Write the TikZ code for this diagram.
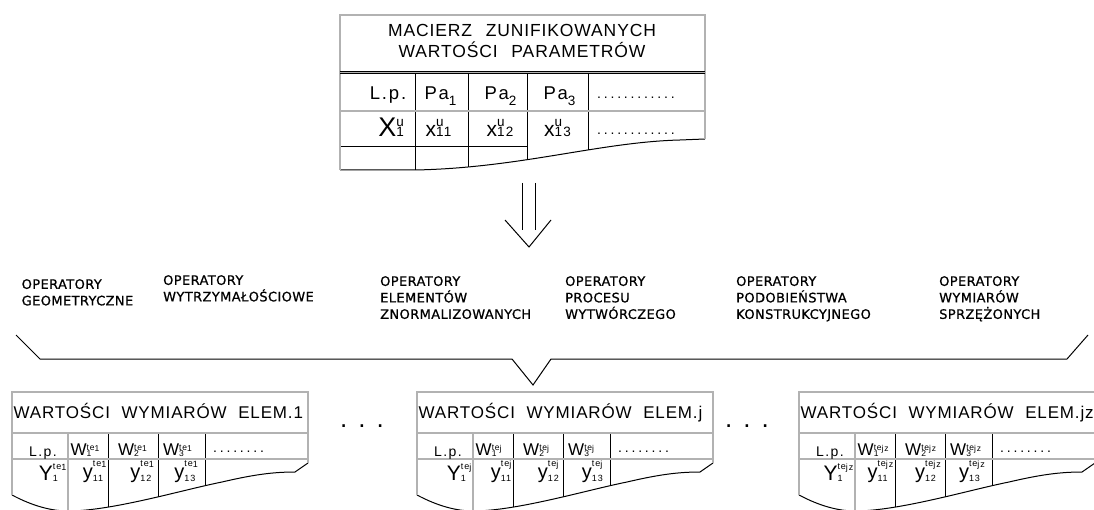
\documentclass[tikz,border=0pt]{standalone}
\usepackage{fontspec}
\setmainfont{Liberation Sans}
\newfontfamily\cadfont[LetterSpace=5]{Liberation Sans}
\newfontfamily\cadwide[LetterSpace=10]{Liberation Sans}
\newfontfamily\dotfont[LetterSpace=20]{Liberation Sans}
\newfontfamily\opfont[LetterSpace=3, FakeBold=0.8]{DejaVu Sans}
\newcommand{\fs}[1]{\fontsize{#1}{#1}\selectfont}
% base, sup, sub, base size, script size, sup raise, sub raise
\newcommand{\sx}[7]{{\fs{#4}#1}{\fs{#5}\setbox0=\hbox{#2}\setbox2=\hbox{#3}\raisebox{#6}{\copy0}\kern-\wd0\raisebox{#7}{\copy2}\ifdim\wd0>\wd2\kern\dimexpr\wd0-\wd2\relax\fi}}
\newcommand{\tej}[1]{te\raisebox{-1pt}{#1}}
\tikzset{
  thinln/.style={line width=1pt},
  dbl/.style={draw=black, line width=0.6pt, double=gray!60, double distance=1.3pt},
  op/.style={font=\opfont\fontsize{13}{16.5}\selectfont, align=left, inner sep=0pt, anchor=north west},
  ttl/.style={font=\cadfont\fs{17}, inner sep=0pt},
  lbl/.style={font=\cadwide\fs{14}, inner sep=0pt},
  tlbl/.style={font=\cadwide\fs{18.5}, inner sep=0pt},
  dots/.style={font=\dotfont\fs{14}, inner sep=0pt, anchor=base west},
  bigdots/.style={font=\fs{26}, inner sep=0pt, anchor=base}
}
\newcommand{\elemtable}[3]{%
\begin{scope}[shift={(#1,0)}, name prefix=#2-]
  \begin{scope}
    \clip (0,392) -- (296,392) -- (296,463) -- (283,472) .. controls (260,472) and (240,475) .. (210,482) .. controls (170,490) and (100,511) .. (56,511) .. controls (35,511) and (15,503) .. (0,495) -- cycle;
    \draw[thinln] (96,433) -- (96,515) (146,433) -- (146,515) (193,433) -- (193,515);
  \end{scope}
  \draw[thinln] (0,495) .. controls (15,503) and (35,511) .. (56,511) .. controls (100,511) and (170,490) .. (210,482) .. controls (240,475) and (260,472) .. (283,472) -- (296,463);
  \draw[dbl] (0,495) -- (0,392) -- (296,392) -- (296,463);
  \draw[dbl] (0,433) -- (296,433) (0,459) -- (296,459) (56,433) -- (56,515);
  \node[ttl, anchor=base west] (title) at (1.5,418.5) {WARTOŚCI\hspace{6pt} WYMIARÓW\hspace{6pt} ELEM.#3};
  \node[lbl, anchor=base] (lp) at (31,456) {L.p.};
  \node[lbl, anchor=base west] (w1) at (58.5,455) {\sx{W}{\tej{#3}}{1}{17}{8.5}{5pt}{-1.5pt}};
  \node[lbl, anchor=base west] (w2) at (106,455) {\sx{W}{\tej{#3}}{2}{17}{8.5}{5pt}{-1.5pt}};
  \node[lbl, anchor=base west] (w3) at (151,455) {\sx{W}{\tej{#3}}{3}{17}{8.5}{5pt}{-1.5pt}};
  \node[dots] (hd) at (201,452) {........};
  \node[lbl, anchor=base east] (y1) at (54.5,480) {\sx{Y}{\tej{#3}}{1}{21}{9}{11pt}{-1.5pt}};
  \node[lbl, anchor=base east] (y11) at (94.5,478) {\sx{y}{\tej{#3}}{11}{20}{9}{12pt}{-3pt}};
  \node[lbl, anchor=base east] (y12) at (142,478) {\sx{y}{\tej{#3}}{12}{20}{9}{12pt}{-3pt}};
  \node[lbl, anchor=base east] (y13) at (186,478) {\sx{y}{\tej{#3}}{13}{20}{9}{12pt}{-3pt}};
\end{scope}}
\begin{document}
\begin{tikzpicture}[x=1pt, y=-1pt]
\path[use as bounding box] (0,0) rectangle (1094,510);
\clip (0,0) rectangle (1094,510);
% ---------- top table ----------
\begin{scope}
  \clip (340,15) -- (705,15) -- (705,139) -- (680,140) .. controls (600,142) and (520,168) .. (415,170) -- (340,170) -- cycle;
  \draw[thinln] (415,72) -- (415,180) (468,72) -- (468,180) (527,72) -- (527,180) (588,72) -- (588,180);
\end{scope}
\draw[thinln] (340,147) -- (527,147);
\draw[thinln] (340,170) -- (415,170) .. controls (520,168) and (600,142) .. (680,140) -- (705,139);
\draw[dbl] (340,170) -- (340,15) -- (705,15) -- (705,139);
\draw[dbl] (340,72.5) -- (705,72.5) (340,111) -- (705,111);
\node[font=\cadfont\fontsize{17.5}{21}\selectfont, align=center, inner sep=0pt] (mtitle) at (522,41) {MACIERZ\hspace{8pt} ZUNIFIKOWANYCH\\WARTOŚCI\hspace{8pt} PARAMETRÓW};
\node[tlbl, anchor=base] (tlp) at (388,100) {L.p.};
\node[tlbl, anchor=base] (pa1) at (440.5,100) {\sx{Pa}{}{1}{18.5}{13.5}{0pt}{-6pt}};
\node[tlbl, anchor=base] (pa2) at (500.5,100) {\sx{Pa}{}{2}{18.5}{13.5}{0pt}{-6pt}};
\node[tlbl, anchor=base] (pa3) at (559.5,100) {\sx{Pa}{}{3}{18.5}{13.5}{0pt}{-6pt}};
\node[dots] (phd) at (597,99) {............};
\node[tlbl, anchor=base east] (xu1) at (404,137) {\sx{X}{u}{1}{27}{13.5}{10.5pt}{0pt}};
\node[tlbl, anchor=base] (x11) at (438.5,137) {\sx{x}{u}{11}{21}{13.5}{10.5pt}{0pt}};
\node[tlbl, anchor=base] (x12) at (500,137) {\sx{x}{u}{12}{21}{13.5}{10.5pt}{0pt}};
\node[tlbl, anchor=base] (x13) at (557.5,137) {\sx{x}{u}{13}{21}{13.5}{10.5pt}{0pt}};
\node[dots] (pdt) at (597,135) {............};
% ---------- arrow ----------
\coordinate (a1t) at (522,183); \coordinate (a1b) at (522,230);
\coordinate (a2t) at (535,183); \coordinate (a2b) at (535,230);
\coordinate (chl) at (505,220); \coordinate (cht) at (529,247); \coordinate (chr) at (551,220);
\draw[thinln] (a1t) -- (a1b) (a2t) -- (a2b);
\draw[thinln] (chl) -- (cht) -- (chr);
% ---------- operators ----------
\node[op] (op1) at (21.5,279) {OPERATORY\\GEOMETRYCZNE};
\node[op] (op2) at (163,275) {OPERATORY\\WYTRZYMAŁOŚCIOWE};
\node[op] (op3) at (380,276) {OPERATORY\\ELEMENTÓW\\ZNORMALIZOWANYCH};
\node[op] (op4) at (565,276) {OPERATORY\\PROCESU\\WYTWÓRCZEGO};
\node[op] (op5) at (736,276) {OPERATORY\\PODOBIEŃSTWA\\KONSTRUKCYJNEGO};
\node[op] (op6) at (939,276) {OPERATORY\\WYMIARÓW\\SPRZĘŻONYCH};
% ---------- brace ----------
\coordinate (b1) at (16,335); \coordinate (b2) at (40,359); \coordinate (b3) at (512,359);
\coordinate (b4) at (533,385); \coordinate (b5) at (551,359); \coordinate (b6) at (1067,359);
\coordinate (b7) at (1088,335);
\draw[thinln] (b1) -- (b2) -- (b3) -- (b4) -- (b5) -- (b6) -- (b7);
% ---------- bottom tables ----------
\elemtable{12}{t1}{1}
\elemtable{417}{t2}{j}
\elemtable{799}{t3}{jz}
\node[bigdots] (d1) at (362,427) {.\hspace{11pt}.\hspace{11pt}.};
\node[bigdots] (d2) at (747,427) {.\hspace{11pt}.\hspace{11pt}.};
\end{tikzpicture}
\end{document}
